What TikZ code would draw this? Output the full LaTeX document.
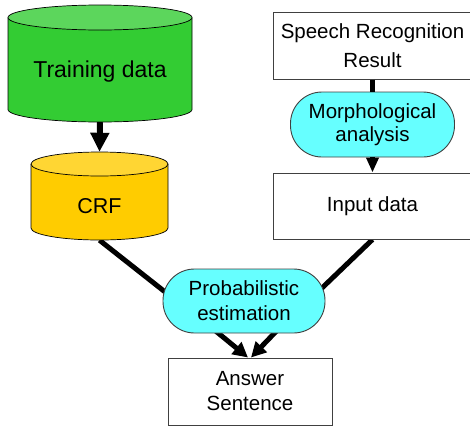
\documentclass[tikz,border=0pt]{standalone}
\usepackage{fontspec}
\setmainfont{Liberation Sans}
\usetikzlibrary{arrows.meta,calc,backgrounds}
\definecolor{grbody}{HTML}{33CC33}
\definecolor{grtop}{HTML}{5CD65C}
\definecolor{ylbody}{HTML}{FFCC00}
\definecolor{yltop}{HTML}{FFD633}
\definecolor{cyanfill}{HTML}{66FFFF}
\definecolor{edge}{HTML}{404040}
\tikzset{
  txt/.style={font=\fontsize{20.5}{25}\selectfont, align=center, inner sep=0pt},
  box/.style={txt, draw=edge, line width=1pt, fill=white},
  pill/.style={txt, draw=edge, line width=0.9pt, fill=cyanfill, rounded corners=31.5pt},
  cylnode/.style={txt, draw=none, inner sep=0pt},
  thickline/.style={line width=5pt, black},
}
\begin{document}
\begin{tikzpicture}[x=1pt,y=1pt]
\useasboundingbox (0,0) rectangle (470,-426);
\clip (0,0) rectangle (470,-426);
% Training data cylinder
\fill[grbody] (8,-17.5) -- (8,-109.5) arc[start angle=180,end angle=360,x radius=92pt,y radius=12.5pt] -- (192,-17.5) -- cycle;
\draw[black,line width=0.7pt] (8,-17.5) -- (8,-109.5) arc[start angle=180,end angle=360,x radius=92pt,y radius=12.5pt] -- (192,-17.5);
\filldraw[fill=grtop,draw=black,line width=0.7pt] (100,-17.5) ellipse[x radius=92pt,y radius=12.5pt];
\node[cylnode, minimum width=184pt, minimum height=117pt, text height=31pt, text depth=4pt,
      font=\fontsize{23}{27}\selectfont] (train) at (100,-63.5) {Training data};
% CRF cylinder
\fill[ylbody] (31,-164) -- (31,-228) arc[start angle=180,end angle=360,x radius=68.5pt,y radius=12pt] -- (168,-164) -- cycle;
\draw[black,line width=0.7pt] (31,-164) -- (31,-228) arc[start angle=180,end angle=360,x radius=68.5pt,y radius=12pt] -- (168,-164);
\filldraw[fill=yltop,draw=black,line width=0.7pt] (99.5,-164) ellipse[x radius=68.5pt,y radius=12pt];
\node[cylnode, minimum width=137pt, minimum height=88pt, text height=34pt, text depth=0pt,
      font=\fontsize{21.5}{25}\selectfont] (crf) at (99.5,-196) {CRF};
% Right column
\node[box, minimum width=199pt, minimum height=67pt, font=\fontsize{20.5}{29}\selectfont] (speech) at (372.5,-45.5) {Speech Recognition\\Result};
\node[pill, minimum width=164pt, minimum height=65pt, font=\fontsize{20.5}{23}\selectfont] (morph) at (372.5,-124.5) {Morphological\\analysis};
\node[box, minimum width=199pt, minimum height=66pt, text height=15pt, text depth=4pt] (input) at (372.5,-206) {Input data};
% Bottom
\node[pill, minimum width=162pt, minimum height=64pt] (prob) at (244,-301) {Probabilistic\\estimation};
\node[box, minimum width=164pt, minimum height=67pt] (answer) at (250,-391.5) {Answer\\Sentence};
% Connectors
\draw[line width=6pt, -{Triangle[width=18pt,length=19pt]}] (train.south) -- (crf.north);
\draw[thickline] (speech.south) -- (morph.north);
\draw[thickline, -{Triangle[width=12pt,length=15pt]}] (morph.south) -- (input.north);
\begin{scope}[on background layer]
\draw[thickline] (crf.south) -- ($(prob.west)+(14,0)$);
\draw[thickline] (input.south) -- ($(prob.east)+(-17,0)$);
\draw[thickline, -{Triangle[width=15pt,length=15pt]}] ($(prob.south)+(-29,3)$) -- ($(answer.north)+(-2,0)$);
\draw[thickline, -{Triangle[width=15pt,length=15pt]}] ($(prob.south)+(33,3)$) -- ($(answer.north)+(1,0)$);
\end{scope}
\end{tikzpicture}
\end{document}
